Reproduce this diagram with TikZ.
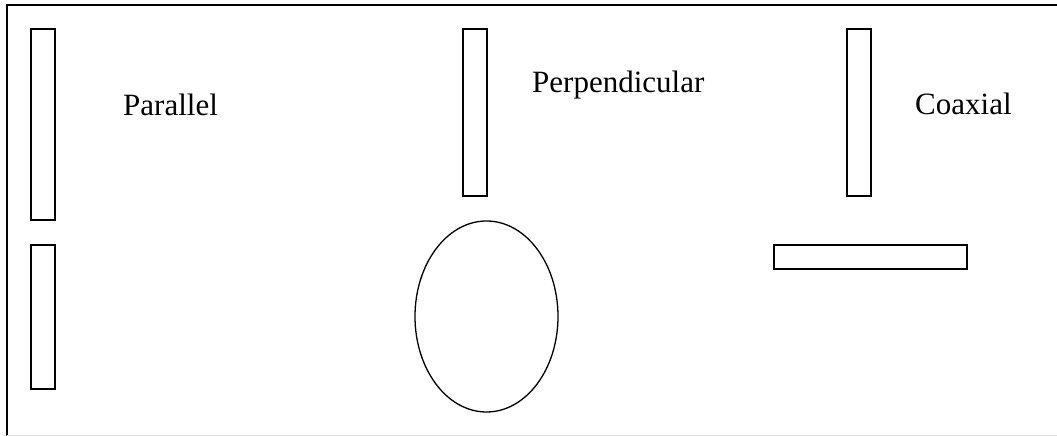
\documentclass[tikz,border=0pt]{standalone}
\usepackage{fontspec}
\setmainfont{Liberation Serif}
\usepackage{tikz}

\begin{document}
\begin{tikzpicture}[x=1pt, y=1pt, line join=miter,
    rod/.style={draw=black, line width=1.6pt},
    caption/.style={anchor=base west, inner sep=0pt, font=\fontsize{31}{36}\selectfont}]
  \useasboundingbox (0,0) rectangle (1057,436);
  % frame
  \draw[line width=1.6pt] (7,0) -- (7,431) -- (1057,431);
  \draw[black!10, line width=0.8pt] (7,1) -- (1057,1);
  % parallel
  \draw[rod] (31,216) rectangle (55,407);
  \draw[rod] (31,47) rectangle (55,191);
  \node[caption] (parallel) at (123,320) {Parallel};
  % perpendicular
  \draw[rod] (463,240) rectangle (487,407);
  \draw[line width=1.3pt] (486.5,119.5) ellipse [x radius=71.5, y radius=95.5];
  \node[caption] (perp) at (532,343) {Perpendicular};
  % coaxial
  \draw[rod] (847,240) rectangle (871,407);
  \draw[rod] (774,167) rectangle (967,191);
  \node[caption] (coax) at (915,321) {Coaxial};
\end{tikzpicture}
\end{document}
